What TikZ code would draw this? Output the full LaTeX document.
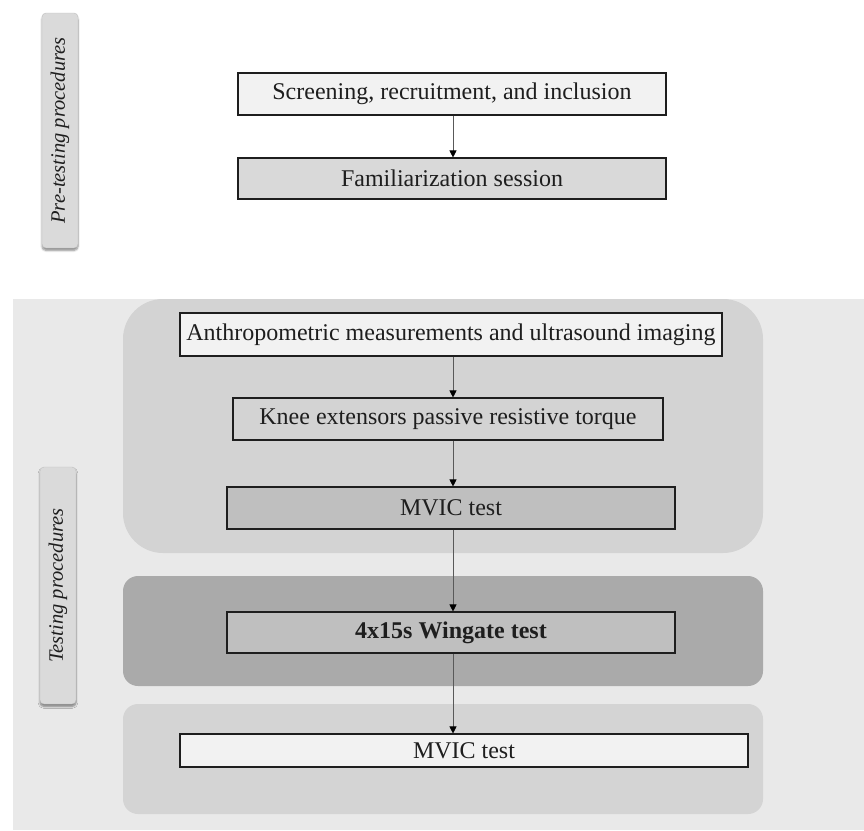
\documentclass[tikz,border=0pt]{standalone}
\usepackage{fontspec}
\setmainfont{Liberation Serif}
\usetikzlibrary{arrows.meta,shadows.blur}
\definecolor{txt}{HTML}{1E1E1E}
\definecolor{bgA}{HTML}{E9E9E9}
\definecolor{grpA}{HTML}{D3D3D3}
\definecolor{grpB}{HTML}{AAAAAA}
\definecolor{grpC}{HTML}{D4D4D4}
\definecolor{boxW}{HTML}{F2F2F2}
\definecolor{boxL}{HTML}{D9D9D9}
\definecolor{boxM}{HTML}{BFBFBF}
\definecolor{lab}{HTML}{DADADA}
\tikzset{
  stepbox/.style={draw=txt, line width=1.1pt, inner sep=0pt, text=txt,
    font=\fontsize{24}{26}\selectfont},
  sidelabel/.style={fill=lab, draw=black!25, line width=0.4pt, rounded corners=4pt,
    rotate=90, inner sep=0pt, text=txt, font=\fontsize{20.5}{23}\selectfont\itshape,
    blur shadow={shadow xshift=0pt, shadow yshift=-2.5pt, shadow blur steps=6, shadow opacity=45}},
  flow/.style={draw=black!65, line width=0.7pt, -{Triangle[length=7pt,width=7pt,color=black]}}
}
\begin{document}
\begin{tikzpicture}[x=1pt,y=-1pt]
\useasboundingbox (0,0) rectangle (864,830);
% background of testing section
\fill[bgA] (13,299) rectangle (864,830);
% groups
\fill[grpA, rounded corners=40pt] (123,299) rectangle (763,553);
\fill[grpB, rounded corners=15pt] (123,576) rectangle (763,686);
\fill[grpC, rounded corners=15pt] (123,704) rectangle (763,814);
% side labels
\node[sidelabel, minimum width=235pt, minimum height=36pt] (pre) at (60,130.5) {Pre-testing procedures};
\node[sidelabel, minimum width=237pt, minimum height=36pt] (tst) at (58,585.5) {Testing procedures};
% steps
\node[stepbox, fill=boxW, minimum width=428pt, minimum height=42pt] (scr) at (452,94) {Screening, recruitment, and inclusion};
\node[stepbox, fill=boxL, minimum width=428pt, minimum height=41pt] (fam) at (452,178.5) {Familiarization session};
\node[stepbox, fill=boxW, minimum width=542pt, minimum height=43pt] (anth) at (451,334.5) {Anthropometric measurements and ultrasound imaging};
\node[stepbox, fill=grpA, minimum width=430pt, minimum height=42pt] (knee) at (448,419) {Knee extensors passive resistive torque};
\node[stepbox, fill=boxM, minimum width=448pt, minimum height=42pt] (mvicA) at (451,508) {MVIC test};
\node[stepbox, fill=boxM, minimum width=448pt, minimum height=41pt] (wing) at (451,632.5) {\bfseries 4x15s Wingate test};
\node[stepbox, fill=boxW, minimum width=568pt, minimum height=33pt] (mvicB) at (464,750.5) {MVIC test};
% connectors
\coordinate (ax) at (453,0);
\draw[flow] (scr.south -| ax) -- (fam.north -| ax);
\draw[flow] (anth.south -| ax) -- (knee.north -| ax);
\draw[flow] (knee.south -| ax) -- (mvicA.north -| ax);
\draw[flow] (mvicA.south -| ax) -- (wing.north -| ax);
\draw[flow] (wing.south -| ax) -- (mvicB.north -| ax);
\end{tikzpicture}
\end{document}
